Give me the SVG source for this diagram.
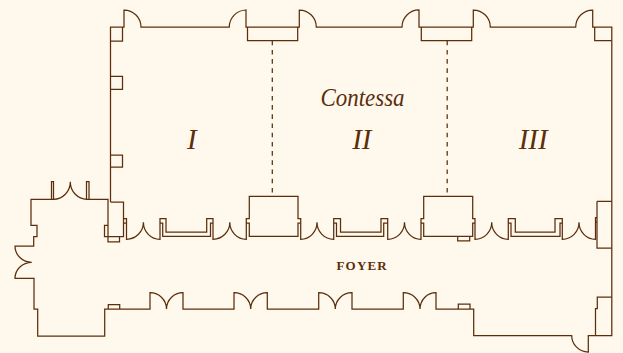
<svg xmlns="http://www.w3.org/2000/svg" width="623" height="353" viewBox="0 0 623 353">
<style>
.w{fill:none;stroke:#5c2e0c;stroke-width:1.25}
.d{fill:none;stroke:#5c2e0c;stroke-width:1.25;stroke-dasharray:4.6 4.6}
text{fill:#5c2e0c;font-family:"Liberation Serif",serif}
.r{font-style:italic;font-size:29px;text-anchor:middle}
</style>
<rect width="623" height="353" fill="#fef9ec"/>
<g id="walls-outer">
<path class="w" d="M110.5 202V27H124V10A17 17 0 0 1 141 27H229.3A17 17 0 0 1 246 10V27H299.3V10A17 17 0 0 1 316.3 27H402A17 17 0 0 1 419 10V27H473.3V10A17 17 0 0 1 490.3 27H575.7A17 17 0 0 1 592.7 10V27H611.8V335.5H588.3V352A16.6 16.5 0 0 1 571.7 335.5H473.7V309H436V292.7A16 16.3 0 0 0 420 309A16.7 16.3 0 0 0 403.3 292.7V309H352V292.7A16.6 16.3 0 0 0 335.3 309A16.6 16.3 0 0 0 318.7 292.7V309H267.3V292.7A16.6 16.3 0 0 0 250.7 309A16.7 16.3 0 0 0 234 292.7V309H183V292.7A16.5 16.3 0 0 0 166.5 309A16.5 16.3 0 0 0 150 292.7V309H104.7V336H37.7V309H34V278.3H15A16.7 16 0 0 1 31.7 262.3A16.7 16.3 0 0 1 15 246H33.7V236.6H37V225.3H31V199.3H53A17 17.3 0 0 0 70.3 181.7A17 17.3 0 0 0 87 199.3H108V241.9H119.5V236.7"/>
<path class="w" d="M51.5 199.3V181.7H53.5V199.3M86.5 199.3V181.7H89V199.3"/>
<path class="w" d="M108.3 309V304.7H119.7V309M458.3 309V304H470V309"/>
<path class="w" d="M595.5 335.5V308.5H597.3V297H611.8"/>
</g>
<g id="walls-inner">
<path class="w" d="M110.5 202H123.5V236.7H104.5V225.3H108"/>
<path class="w" d="M123.5 218.5H126.5V239.3A17 17 0 0 0 143.4 222.3A16.6 17 0 0 0 160 239.3V218.5H166V232H206.7V218.5H213V239.3A16.9 17 0 0 0 229.8 222.3A16.5 17 0 0 0 246.3 239.3V218.5H249.3V196.3H298V218.5H300.7V239.3A16.3 17 0 0 0 317 222.3A16.7 17 0 0 0 333.7 239.3V218.5H340.5V232H381V218.5H387.7V239.3A16.8 17 0 0 0 404.5 222.3A16.5 17 0 0 0 421 239.3V218.5H423.7V196.3H472.7V218.5H475V239.3A16.7 17 0 0 0 491.7 222.3A16.6 17 0 0 0 508.3 239.3V218.5H515.3V232H555V218.5H562.3V239.3A16.7 17 0 0 0 579 222.3A16.5 17 0 0 0 595.5 239.3V217.5H597"/>
<path class="w" d="M123.5 223H126.5M160 223H162.7V236.3H210.5V223H213M246.3 223H249.3V236.3H298V223H300.7M333.7 223H336.5V236.3H383.7V223H387.7M421 223H423.7V236.3H472.7V223H475M508.3 223H511V236.3H560V223H562.3M595.5 222H597"/>
<path class="w" d="M457.7 236.3V240.8H469.7V236.3M597 201.3H611.8M597 201.3V248H611.8"/>
<path class="w" d="M110.5 41H122.5V27M110.5 76.4H122.5V89.3H110.5M110.5 155H122.5V167H110.5M247.5 27V40.7H297.7V27M421.3 27V40.7H471.7V27M594.7 27V40.7H611.8"/>
</g>
<g id="partitions">
<path class="d" d="M272.3 40.7V196.3M447.2 40.7V196.3"/>
</g>
<g id="labels">
<text x="320.5" y="106" font-size="25.5" font-style="italic" textLength="84" lengthAdjust="spacingAndGlyphs">Contessa</text>
<text class="r" x="191.8" y="149.3">I</text>
<text class="r" x="361.8" y="149.3">II</text>
<text class="r" x="533.2" y="149.3">III</text>
<text x="362.2" y="270" font-size="13" font-weight="bold" letter-spacing="1.2" text-anchor="middle">FOYER</text>
</g>
</svg>
